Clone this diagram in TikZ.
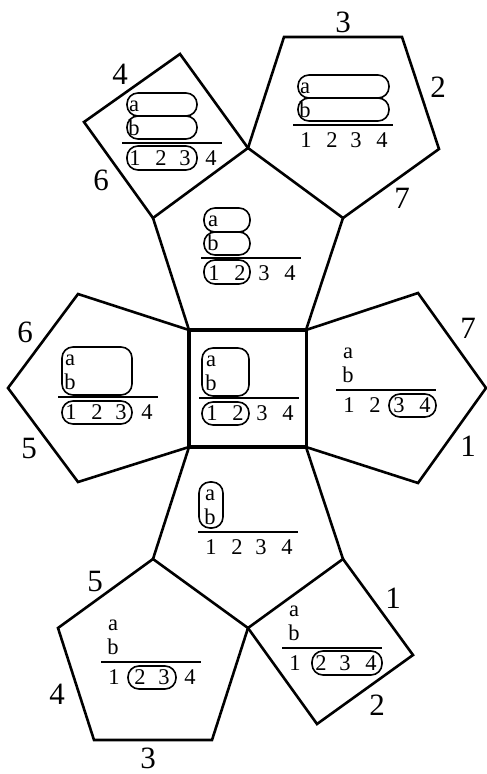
\documentclass[tikz,border=0pt]{standalone}
\usepackage{fontspec}
\setmainfont{Liberation Serif}
\tikzset{
  x=1pt,y=-1pt,
  face/.style={draw=black,line width=2.6pt,line join=miter},
  core/.style={draw=black,line width=3.2pt,line join=miter},
  rulebar/.style={draw=black,line width=1.3pt},
  loop/.style={draw=black,line width=1.6pt,rounded corners=11pt},
  tag/.style={font=\fontsize{22.5}{22.5}\selectfont,inner sep=0pt,anchor=base},
  edgenum/.style={font=\fontsize{31}{31}\selectfont,inner sep=0pt,anchor=center},
}
% #1 name, #2 left end of bar, #3 height of bar
\newcommand{\tabl}[3]{%
  \begin{scope}[shift={(#2,#3)}]
    \draw[rulebar] (0,0) -- (100,0);
    \node[tag] (#1a) at (12,-32) {a};
    \node[tag] (#1b) at (12,-8) {b};
    \node[tag] (#1d1) at (13,22) {1};
    \node[tag] (#1d2) at (39,22) {2};
    \node[tag] (#1d3) at (63,22) {3};
    \node[tag] (#1d4) at (89,22) {4};
  \end{scope}}
\newcommand{\ring}[4]{\draw[loop] (#1,#2) rectangle (#3,#4);}
\begin{document}
\begin{tikzpicture}
\useasboundingbox (0,0) rectangle (487,774);
% outer faces
\draw[face] (248,148) -- (284,37) -- (402,37) -- (439,149) -- (343,218);
\draw[face] (248,148) -- (180,54) -- (84,122) -- (153,218);
\draw[face] (189,330) -- (153,218) -- (248,148) -- (343,218) -- (306,330);
\draw[face] (189,330) -- (78,294) -- (8,388) -- (78,482) -- (189,447);
\draw[face] (306,330) -- (418,293) -- (486,388) -- (418,483) -- (306,447);
\draw[face] (189,447) -- (153,559) -- (248,628) -- (343,559) -- (306,447);
\draw[face] (153,559) -- (58,628) -- (94,740) -- (212,740) -- (248,628);
\draw[face] (248,628) -- (317,724) -- (413,655) -- (343,559);
\draw[core] (189,330) rectangle (306.5,447);
% tableaux
\tabl{tl}{122}{143}
\ring{127}{93}{197}{116}\ring{127}{116}{197}{139}\ring{127}{146}{197}{170}
\tabl{tr}{293}{125}
\ring{298}{75}{389}{98}\ring{298}{98}{389}{121}
\tabl{tp}{201}{258}
\ring{204}{208}{250}{232}\ring{204}{232}{250}{255}\ring{204}{260}{250}{284}
\tabl{lf}{58}{397}
\ring{62}{347}{132}{395}\ring{62}{401}{132}{424}
\tabl{ce}{199}{398}
\ring{202}{348}{249}{396}\ring{202}{402}{249}{425}
\tabl{rt}{336}{390}
\ring{389}{394}{436}{417}
\tabl{bm}{198}{532}
\ring{199}{482}{223}{528}
\tabl{bl}{101}{662}
\ring{128}{666}{176}{689}
\tabl{br}{282}{648}
\ring{312}{651}{382}{675}
% edge numbers
\node[edgenum] (n1) at (343,22) {3};
\node[edgenum] (n2) at (438,87) {2};
\node[edgenum] (n3) at (402,198) {7};
\node[edgenum] (n4) at (120,74) {4};
\node[edgenum] (n5) at (101,180) {6};
\node[edgenum] (n6) at (25,332) {6};
\node[edgenum] (n7) at (29,448) {5};
\node[edgenum] (n8) at (468,328) {7};
\node[edgenum] (n9) at (468,446) {1};
\node[edgenum] (n10) at (95,581) {5};
\node[edgenum] (n11) at (393,598) {1};
\node[edgenum] (n12) at (377,705) {2};
\node[edgenum] (n13) at (57,694) {4};
\node[edgenum] (n14) at (148,758) {3};
\end{tikzpicture}
\end{document}
